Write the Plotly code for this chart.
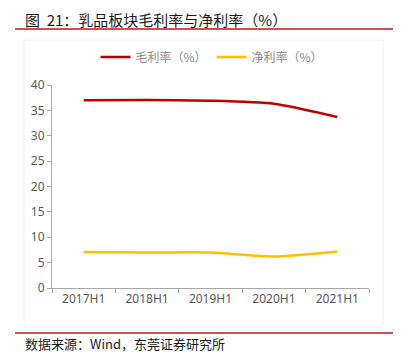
import plotly.graph_objects as go

categories = ["2017H1", "2018H1", "2019H1", "2020H1", "2021H1"]
gross_margin = [37.0, 37.05, 36.9, 36.3, 33.7]
net_margin = [7.1, 7.0, 7.0, 6.2, 7.2]
series_names = ["毛利率（%）", "净利率（%）"]
y_ticks = [0, 5, 10, 15, 20, 25, 30, 35, 40]

OFF = 8  # page body margin
W, H = 407 - OFF, 355 - OFF
L, T = 52 - OFF, 85 - OFF
R = 407 - 369
B = H - (288 - OFF)
pw, ph = W - L - R, H - T - B

def px(x):
    return (x - OFF - L) / pw

def py(y):
    return (H - B - (y - OFF)) / ph

cjk = "Noto Sans CJK SC, Noto Sans, sans-serif"

fig = go.Figure()
fig.add_trace(go.Scatter(x=categories, y=gross_margin, name=series_names[0], mode="lines",
                         line=dict(color="#C00000", width=2.5, shape="spline", smoothing=0.6)))
fig.add_trace(go.Scatter(x=categories, y=net_margin, name=series_names[1], mode="lines",
                         line=dict(color="#FFC000", width=2.5, shape="spline", smoothing=0.6)))

fig.update_layout(
    width=W, height=H,
    margin=dict(l=L, r=R, t=T, b=B, pad=0),
    paper_bgcolor="white", plot_bgcolor="white",
    font=dict(family=cjk, color="#595959", size=12),
    showlegend=True,
    legend=dict(orientation="h", x=px(212), xanchor="center", y=py(57), yanchor="middle",
                font=dict(size=12, color="#8c8c8c", family=cjk), itemwidth=30,
                bgcolor="rgba(0,0,0,0)", traceorder="normal"),
    xaxis=dict(type="category", range=[-0.5, 4.5], showline=True, linecolor="#a6a6a6", linewidth=1,
               ticks="outside", ticklen=4, tickcolor="#a6a6a6", tickson="boundaries",
               showgrid=False, zeroline=False, tickfont=dict(size=12, color="#595959", family="Noto Sans, sans-serif")),
    yaxis=dict(range=[0, 40], tickvals=y_ticks, showline=True, linecolor="#a6a6a6", linewidth=1,
               ticks="outside", ticklen=4, tickcolor="#a6a6a6", showgrid=False, zeroline=False,
               tickfont=dict(size=12, color="#595959", family="Noto Sans, sans-serif")),
)

fig.add_annotation(text="图  21：乳品板块毛利率与净利率（%）", xref="paper", yref="paper",
                   x=px(24), y=py(OFF), xanchor="left", yanchor="top", showarrow=False, borderpad=0,
                   font=dict(size=15, color="#1a1a1a", family=cjk))
fig.add_annotation(text="数据来源：Wind，东莞证券研究所", xref="paper", yref="paper",
                   x=px(24), y=py(354), xanchor="left", yanchor="bottom", showarrow=False, borderpad=0,
                   font=dict(size=13, color="#1a1a1a", family=cjk))

fig.add_shape(type="line", xref="paper", yref="paper", x0=px(15), x1=px(393), y0=py(29), y1=py(29),
              line=dict(color="#C8101E", width=1.5))
fig.add_shape(type="line", xref="paper", yref="paper", x0=px(15), x1=px(393), y0=py(333), y1=py(333),
              line=dict(color="#C8101E", width=1.5))
fig.add_shape(type="rect", xref="paper", yref="paper", x0=px(24), x1=px(383), y0=py(327), y1=py(40),
              line=dict(color="#f2f2f2", width=1), layer="below")

fig.write_html("out.html")
